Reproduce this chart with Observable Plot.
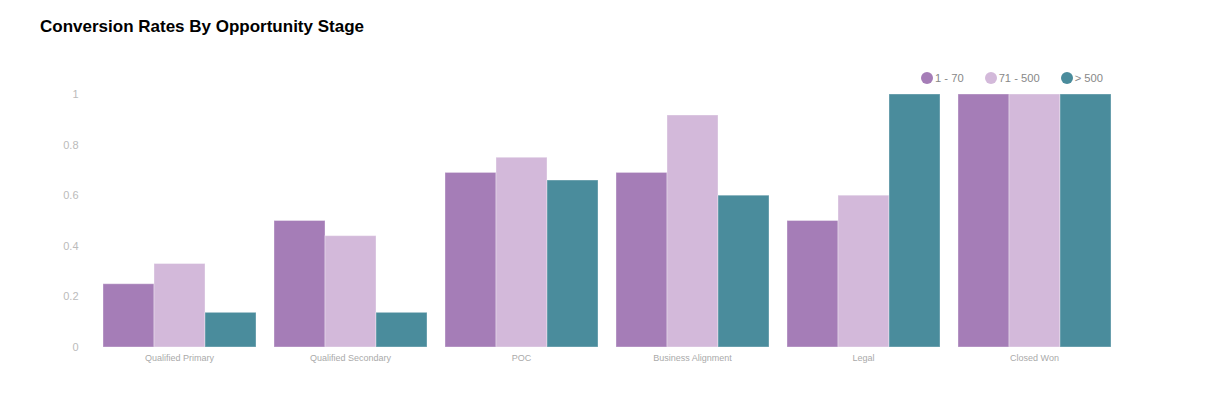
<!DOCTYPE html>
<html><head><meta charset="utf-8">
<script src="https://cdn.jsdelivr.net/npm/d3@7"></script>
<script src="https://cdn.jsdelivr.net/npm/@observablehq/plot@0.6"></script>
<style>
body{margin:0;background:#fff;font-family:"Liberation Sans",Arial,Helvetica,sans-serif;}
#header{position:relative;width:1224px;height:80px;}
#title{position:absolute;left:40px;top:17px;font-size:17px;font-weight:bold;color:#000;line-height:20px;}
#legend{position:absolute;right:121px;top:70px;display:flex;gap:21px;font-size:11.2px;color:#888;line-height:16px;}
#legend .item{display:flex;align-items:center;}
#legend .dot{width:12px;height:12px;border-radius:50%;margin-right:2px;}
</style>
</head><body>
<div id="header"><div id="title">Conversion Rates By Opportunity Stage</div><div id="legend"></div></div>
<div id="chart"></div>
<script>
const stages = ["Qualified Primary","Qualified Secondary","POC","Business Alignment","Legal","Closed Won"];
const series = ["1 - 70","71 - 500","> 500"];
const colors = ["#a57db7","#d3b9da","#4a8c9c"];
const small  = [0.25, 0.5, 0.69, 0.69, 0.5, 1];
const medium = [0.33, 0.44, 0.75, 0.917, 0.6, 1];
const large  = [0.137, 0.137, 0.66, 0.6, 1, 1];
const yTicks = [0, 0.2, 0.4, 0.6, 0.8, 1];

const valuesBySeries = [small, medium, large];
const data = stages.flatMap((s, i) => series.map((k, j) => ({stage: s, series: k, value: valuesBySeries[j][i]})));

const legend = document.getElementById("legend");
series.forEach((k, j) => {
  const it = document.createElement("div"); it.className = "item";
  const d = document.createElement("span"); d.className = "dot"; d.style.background = colors[j];
  const t = document.createElement("span"); t.textContent = k;
  it.appendChild(d); it.appendChild(t); legend.appendChild(it);
});

const chart = Plot.plot({
  width: 1224, height: 320,
  marginTop: 14, marginBottom: 53, marginLeft: 101, marginRight: 113,
  style: {fontFamily: "Liberation Sans, Arial, sans-serif", background: "white"},
  fx: {domain: stages, padding: 0.1, label: null},
  x: {domain: series, padding: 0, axis: null},
  y: {domain: [0, 1], label: null},
  color: {domain: series, range: colors},
  marks: [
    Plot.barY(data, {fx: "stage", x: "series", y: "value", fill: "series", stroke: "white", strokeOpacity: 0.35, strokeWidth: 1}),
    Plot.axisY({ticks: yTicks, tickFormat: d => String(d), tickSize: 0, tickPadding: 24, fontSize: 11, fill: "#bbb", label: null}),
    Plot.axisFx({anchor: "bottom", tickSize: 0, tickPadding: 7, fontSize: 9, fill: "#aaa", label: null})
  ]
});
document.getElementById("chart").appendChild(chart);
</script>
</body></html>
